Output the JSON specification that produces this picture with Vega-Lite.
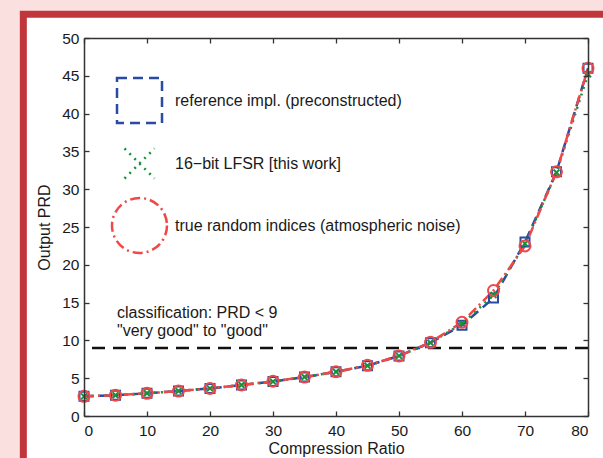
{
  "$schema": "https://vega.github.io/schema/vega-lite/v6.json",
  "width": 504,
  "height": 378,
  "autosize": {"type": "none"},
  "padding": {"left": 84, "top": 38, "right": 15, "bottom": 42},
  "background": "#fbe0e0",
  "config": {
    "font": "Liberation Sans",
    "view": {"stroke": null},
    "axis": {
      "grid": false,
      "domainColor": "#333333",
      "domainWidth": 1.5,
      "tickColor": "#333333",
      "tickWidth": 1.3,
      "tickSize": -5,
      "labelFont": "Liberation Sans",
      "labelFontSize": 15.5,
      "labelColor": "#1a1a1a",
      "titleFont": "Liberation Sans",
      "titleFontSize": 16,
      "titleFontWeight": "normal",
      "titleColor": "#1a1a1a"
    }
  },
  "data": {
    "values": [
      {"ratio": 0, "method": "reference impl. (preconstructed)", "prd": 2.6},
      {"ratio": 5, "method": "reference impl. (preconstructed)", "prd": 2.75},
      {"ratio": 10, "method": "reference impl. (preconstructed)", "prd": 3.0},
      {"ratio": 15, "method": "reference impl. (preconstructed)", "prd": 3.3},
      {"ratio": 20, "method": "reference impl. (preconstructed)", "prd": 3.65},
      {"ratio": 25, "method": "reference impl. (preconstructed)", "prd": 4.1},
      {"ratio": 30, "method": "reference impl. (preconstructed)", "prd": 4.55},
      {"ratio": 35, "method": "reference impl. (preconstructed)", "prd": 5.15},
      {"ratio": 40, "method": "reference impl. (preconstructed)", "prd": 5.85},
      {"ratio": 45, "method": "reference impl. (preconstructed)", "prd": 6.65},
      {"ratio": 50, "method": "reference impl. (preconstructed)", "prd": 7.95},
      {"ratio": 55, "method": "reference impl. (preconstructed)", "prd": 9.7},
      {"ratio": 60, "method": "reference impl. (preconstructed)", "prd": 12.0},
      {"ratio": 65, "method": "reference impl. (preconstructed)", "prd": 15.6},
      {"ratio": 70, "method": "reference impl. (preconstructed)", "prd": 23.0},
      {"ratio": 75, "method": "reference impl. (preconstructed)", "prd": 32.3},
      {"ratio": 80, "method": "reference impl. (preconstructed)", "prd": 46.0},
      {"ratio": 0, "method": "16−bit LFSR [this work]", "prd": 2.6},
      {"ratio": 5, "method": "16−bit LFSR [this work]", "prd": 2.75},
      {"ratio": 10, "method": "16−bit LFSR [this work]", "prd": 3.0},
      {"ratio": 15, "method": "16−bit LFSR [this work]", "prd": 3.3},
      {"ratio": 20, "method": "16−bit LFSR [this work]", "prd": 3.65},
      {"ratio": 25, "method": "16−bit LFSR [this work]", "prd": 4.1},
      {"ratio": 30, "method": "16−bit LFSR [this work]", "prd": 4.55},
      {"ratio": 35, "method": "16−bit LFSR [this work]", "prd": 5.15},
      {"ratio": 40, "method": "16−bit LFSR [this work]", "prd": 5.85},
      {"ratio": 45, "method": "16−bit LFSR [this work]", "prd": 6.65},
      {"ratio": 50, "method": "16−bit LFSR [this work]", "prd": 7.95},
      {"ratio": 55, "method": "16−bit LFSR [this work]", "prd": 9.7},
      {"ratio": 60, "method": "16−bit LFSR [this work]", "prd": 12.2},
      {"ratio": 65, "method": "16−bit LFSR [this work]", "prd": 16.0},
      {"ratio": 70, "method": "16−bit LFSR [this work]", "prd": 22.8},
      {"ratio": 75, "method": "16−bit LFSR [this work]", "prd": 32.2},
      {"ratio": 80, "method": "16−bit LFSR [this work]", "prd": 45.2},
      {"ratio": 0, "method": "true random indices (atmospheric noise)", "prd": 2.6},
      {"ratio": 5, "method": "true random indices (atmospheric noise)", "prd": 2.75},
      {"ratio": 10, "method": "true random indices (atmospheric noise)", "prd": 3.0},
      {"ratio": 15, "method": "true random indices (atmospheric noise)", "prd": 3.3},
      {"ratio": 20, "method": "true random indices (atmospheric noise)", "prd": 3.65},
      {"ratio": 25, "method": "true random indices (atmospheric noise)", "prd": 4.1},
      {"ratio": 30, "method": "true random indices (atmospheric noise)", "prd": 4.6},
      {"ratio": 35, "method": "true random indices (atmospheric noise)", "prd": 5.15},
      {"ratio": 40, "method": "true random indices (atmospheric noise)", "prd": 5.85},
      {"ratio": 45, "method": "true random indices (atmospheric noise)", "prd": 6.7},
      {"ratio": 50, "method": "true random indices (atmospheric noise)", "prd": 7.95},
      {"ratio": 55, "method": "true random indices (atmospheric noise)", "prd": 9.75},
      {"ratio": 60, "method": "true random indices (atmospheric noise)", "prd": 12.4},
      {"ratio": 65, "method": "true random indices (atmospheric noise)", "prd": 16.6},
      {"ratio": 70, "method": "true random indices (atmospheric noise)", "prd": 22.5},
      {"ratio": 75, "method": "true random indices (atmospheric noise)", "prd": 32.3},
      {"ratio": 80, "method": "true random indices (atmospheric noise)", "prd": 46.0}
    ]
  },
  "layer": [
    {
      "data": {"values": [{}]},
      "mark": {"type": "rect", "fill": "white", "stroke": "#c1363a", "strokeWidth": 7, "clip": false},
      "encoding": {
        "x": {"datum": -9.63, "type": "quantitative", "scale": {"domain": [0, 80], "nice": false}, "axis": null},
        "x2": {"datum": 100},
        "y": {"datum": 53.13, "type": "quantitative", "scale": {"domain": [0, 50], "nice": false, "zero": false}, "axis": null},
        "y2": {"datum": -15}
      }
    },
    {
      "data": {"values": [{}]},
      "mark": {"type": "rule", "color": "#111111", "strokeWidth": 2.5, "strokeDash": [13, 8]},
      "encoding": {
        "y": {"datum": 9, "type": "quantitative", "scale": {"domain": [0, 50], "nice": false, "zero": false}, "axis": null}
      }
    },
    {
      "data": {"values": [{}]},
      "mark": {"type": "text", "text": ["classification: PRD < 9", "\"very good\" to \"good\""], "align": "left", "baseline": "alphabetic", "fontSize": 16, "lineHeight": 18, "color": "#1a1a1a", "font": "Liberation Sans"},
      "encoding": {
        "x": {"datum": 5.24, "type": "quantitative", "scale": {"domain": [0, 80], "nice": false},
          "axis": {"orient": "top", "labels": false, "title": null, "zindex": 1, "values": [0, 10, 20, 30, 40, 50, 60, 70, 80]}},
        "y": {"datum": 13.0, "type": "quantitative", "scale": {"domain": [0, 50], "nice": false, "zero": false},
          "axis": {"orient": "right", "labels": false, "title": null, "zindex": 1, "values": [0, 5, 10, 15, 20, 25, 30, 35, 40, 45, 50]}}
      }
    },
    {
      "mark": {"type": "line", "strokeWidth": 2.5},
      "encoding": {
        "x": {"field": "ratio", "type": "quantitative", "scale": {"domain": [0, 80], "nice": false},
          "axis": {"orient": "bottom", "title": "Compression Ratio", "zindex": 1, "values": [0, 10, 20, 30, 40, 50, 60, 70, 80], "labelPadding": 12, "titlePadding": 2}},
        "y": {"field": "prd", "type": "quantitative", "scale": {"domain": [0, 50], "nice": false, "zero": false},
          "axis": {"orient": "left", "title": "Output PRD", "zindex": 1, "values": [0, 5, 10, 15, 20, 25, 30, 35, 40, 45, 50], "labelPadding": 10, "titlePadding": 9}},
        "color": {"field": "method", "type": "nominal",
          "scale": {"domain": ["reference impl. (preconstructed)", "16−bit LFSR [this work]", "true random indices (atmospheric noise)"], "range": ["#2a4aa6", "#17913a", "#f04848"]}},
        "strokeDash": {"field": "method", "type": "nominal",
          "scale": {"domain": ["reference impl. (preconstructed)", "16−bit LFSR [this work]", "true random indices (atmospheric noise)"], "range": [[10, 6], [2, 5], [10, 4, 2, 4]]},
          "legend": null}
      }
    },
    {
      "mark": {"type": "point", "filled": false, "strokeWidth": 2, "size": 100, "opacity": 1},
      "encoding": {
        "x": {"field": "ratio", "type": "quantitative", "scale": {"domain": [0, 80], "nice": false}, "axis": null},
        "y": {"field": "prd", "type": "quantitative", "scale": {"domain": [0, 50], "nice": false, "zero": false}, "axis": null},
        "color": {"field": "method", "type": "nominal",
          "scale": {"domain": ["reference impl. (preconstructed)", "16−bit LFSR [this work]", "true random indices (atmospheric noise)"], "range": ["#2a4aa6", "#17913a", "#f04848"]},
          "legend": {
            "title": null, "orient": "none", "legendX": 29, "legendY": 36, "zindex": 1,
            "labelFontSize": 16, "labelColor": "#1a1a1a", "labelLimit": 400,
            "rowPadding": 9, "labelOffset": 9, "symbolSize": 2500, "symbolStrokeWidth": 2.5,
            "encode": {"symbols": {
              "shape": {
                "condition": [
                  {"test": "datum.index === 0", "value": "M-1,0H-0.56M0.56,0H1M-0.18,-0.18H0.18V0.18H-0.18ZM-0.18,0H0.18"},
                  {"test": "datum.index === 1", "value": "M-0.95,0H-0.89M-0.68,0H-0.62M-0.42,0H-0.36M0.36,0H0.42M0.62,0H0.68M0.89,0H0.95M-0.13,-0.13L0.13,0.13M-0.13,0.13L0.13,-0.13"}
                ],
                "value": "M-0.95,0H-0.89M-0.7,0H-0.24M0.24,0H0.58M0.84,0H0.9M0.2,0A0.2,0.2 0 1,1 -0.2,0A0.2,0.2 0 1,1 0.2,0"
              },
              "strokeDash": {"value": [1, 0]},
              "fill": {"value": "transparent"}
            }}
          }},
        "shape": {"field": "method", "type": "nominal",
          "scale": {"domain": ["reference impl. (preconstructed)", "16−bit LFSR [this work]", "true random indices (atmospheric noise)"], "range": ["M-0.9,-0.9H0.9V0.9H-0.9Z", "M-0.6,-0.6L0.6,0.6M-0.6,0.6L0.6,-0.6", "M1.1,0A1.1,1.1 0 1,1 -1.1,0A1.1,1.1 0 1,1 1.1,0"]},
          "legend": null}
      }
    }
  ],
  "resolve": {"axis": {"x": "independent", "y": "independent"}}
}
